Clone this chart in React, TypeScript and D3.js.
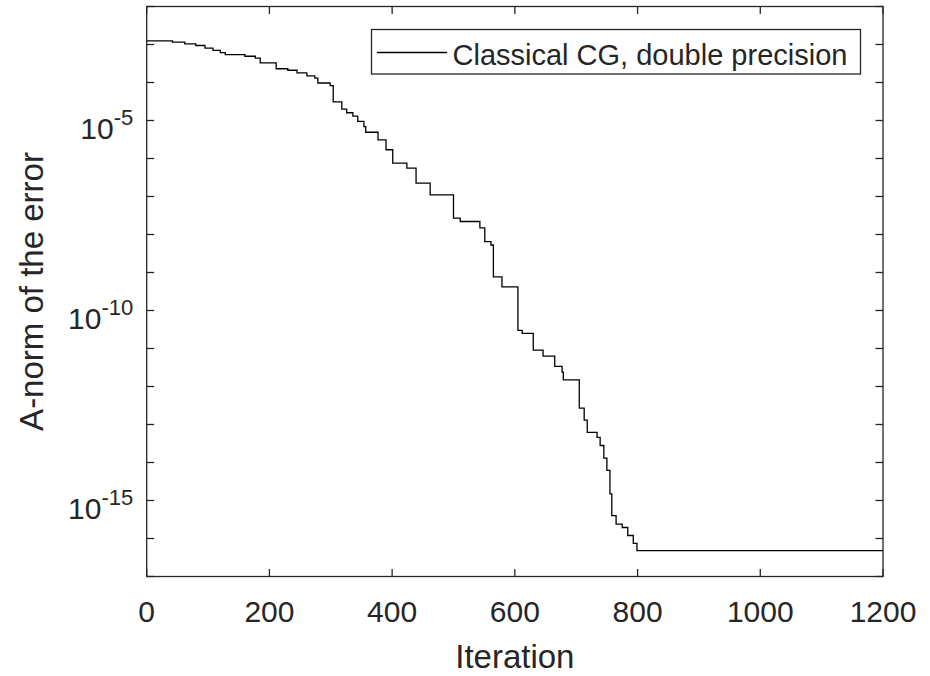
import React, { useEffect, useRef } from 'react';
import * as d3 from 'd3';

// A-norm of the error per CG iteration (step changes only)
const iterations = [
  0, 42, 62, 80, 95, 108, 120, 128, 160, 177,
  185, 211, 230, 245, 261, 274, 279, 299, 304, 318,
  326, 336, 344, 354, 357, 377, 390, 401, 424, 439,
  462, 500, 511, 543, 551, 561, 565, 579, 605, 612,
  630, 646, 665, 677, 679, 705, 713, 718, 734, 739,
  745, 750, 755, 758, 765, 775, 784, 793, 799, 1200,
];
const errorValues = [
  1.25e-3, 1.15e-3, 1.04e-3, 9.4e-4, 8.0e-4, 7.0e-4, 6.1e-4, 5.4e-4, 4.9e-4, 4.4e-4,
  3.3e-4, 2.3e-4, 2.1e-4, 1.8e-4, 1.5e-4, 1.3e-4, 9.7e-5, 8.3e-5, 3.1e-5, 2.0e-5,
  1.6e-5, 1.3e-5, 9.5e-6, 6.9e-6, 4.9e-6, 3.1e-6, 1.7e-6, 7.6e-7, 5.6e-7, 2.25e-7,
  1.1e-7, 2.7e-8, 2.2e-8, 1.5e-8, 6.5e-9, 5.3e-9, 7.7e-10, 4.2e-10, 3.0e-11, 2.5e-11,
  9.1e-12, 6.3e-12, 3.4e-12, 2.4e-12, 1.5e-12, 2.7e-13, 1.3e-13, 6.2e-14, 4.6e-14, 2.8e-14,
  1.3e-14, 6.2e-15, 1.5e-15, 4.0e-16, 2.4e-16, 1.95e-16, 1.2e-16, 7.4e-17, 4.8e-17, 4.8e-17,
];

const xTicks = [0, 200, 400, 600, 800, 1000, 1200];
const yTickExps = [-17, -16, -15, -14, -13, -12, -11, -10, -9, -8, -7, -6, -5, -4, -3, -2];
const yLabelExps = [-15, -10, -5];
const seriesName = 'Classical CG, double precision';

const width = 930;
const height = 676;
const axisColor = '#262626';
const font = '"Liberation Sans", Arial, Helvetica, sans-serif';

const App = () => {
  const svgRef = useRef(null);

  useEffect(() => {
    if (!svgRef.current) return;
    const svg = d3.select(svgRef.current);
    svg.selectAll('*').remove();

    const m = { left: 146.7, right: 883, top: 6.5, bottom: 576.5 };

    const x = d3.scaleLinear().domain([0, 1200]).range([m.left, m.right]);
    const y = d3.scaleLog().domain([1e-17, 1e-2]).range([m.bottom, m.top]);

    svg.append('rect')
      .attr('width', width)
      .attr('height', height)
      .attr('fill', '#fff');

    const data = iterations.map((it, i) => ({ it, v: errorValues[i] }));

    const line = d3.line()
      .x(d => x(d.it))
      .y(d => y(d.v))
      .curve(d3.curveStepAfter);

    svg.append('path')
      .datum(data)
      .attr('d', line)
      .attr('fill', 'none')
      .attr('stroke', '#000')
      .attr('stroke-width', 1.3);

    // box
    svg.append('rect')
      .attr('x', m.left)
      .attr('y', m.top)
      .attr('width', m.right - m.left)
      .attr('height', m.bottom - m.top)
      .attr('fill', 'none')
      .attr('stroke', axisColor)
      .attr('stroke-width', 1.3);

    const tickLen = 7.5;
    const ticks = svg.append('g')
      .attr('stroke', axisColor)
      .attr('stroke-width', 1.3);

    xTicks.forEach(t => {
      const px = x(t);
      ticks.append('line').attr('x1', px).attr('x2', px).attr('y1', m.bottom).attr('y2', m.bottom - tickLen);
      ticks.append('line').attr('x1', px).attr('x2', px).attr('y1', m.top).attr('y2', m.top + tickLen);
    });
    yTickExps.forEach(e => {
      const py = y(Math.pow(10, e));
      ticks.append('line').attr('x1', m.left).attr('x2', m.left + tickLen).attr('y1', py).attr('y2', py);
      ticks.append('line').attr('x1', m.right).attr('x2', m.right - tickLen).attr('y1', py).attr('y2', py);
    });

    // x tick labels
    svg.append('g')
      .selectAll('text')
      .data(xTicks)
      .join('text')
      .attr('x', d => x(d))
      .attr('y', 622)
      .attr('text-anchor', 'middle')
      .attr('font-family', font)
      .attr('font-size', 30)
      .attr('fill', axisColor)
      .text(d => d);

    // y tick labels with superscripts
    yLabelExps.forEach(e => {
      const py = y(Math.pow(10, e));
      const t = svg.append('text')
        .attr('x', m.left - 13.5)
        .attr('y', py + 18)
        .attr('text-anchor', 'end')
        .attr('font-family', font)
        .attr('fill', axisColor);
      t.append('tspan').attr('font-size', 30).text('10');
      t.append('tspan').attr('font-size', 22).attr('dy', -14).text(String(e));
    });

    // axis titles
    svg.append('text')
      .attr('x', (m.left + m.right) / 2)
      .attr('y', 668)
      .attr('text-anchor', 'middle')
      .attr('font-family', font)
      .attr('font-size', 33)
      .attr('fill', axisColor)
      .text('Iteration');

    svg.append('text')
      .attr('transform', `translate(43, ${(m.top + m.bottom) / 2}) rotate(-90)`)
      .attr('text-anchor', 'middle')
      .attr('font-family', font)
      .attr('font-size', 33)
      .attr('fill', axisColor)
      .text('A-norm of the error');

    // legend
    const legend = svg.append('g');
    legend.append('rect')
      .attr('x', 371.5)
      .attr('y', 29.5)
      .attr('width', 489)
      .attr('height', 44.5)
      .attr('fill', '#fff')
      .attr('stroke', axisColor)
      .attr('stroke-width', 1.3);
    legend.append('line')
      .attr('x1', 377)
      .attr('x2', 447)
      .attr('y1', 52.5)
      .attr('y2', 52.5)
      .attr('stroke', '#000')
      .attr('stroke-width', 1.3);
    legend.append('text')
      .attr('x', 452.5)
      .attr('y', 64.5)
      .attr('font-family', font)
      .attr('font-size', 29)
      .attr('fill', axisColor)
      .text(seriesName);
  }, []);

  return (
    <svg
      ref={svgRef}
      width={width}
      height={height}
      style={{ position: 'absolute', left: 0, top: 0, display: 'block' }}
    />
  );
};

export default App;
